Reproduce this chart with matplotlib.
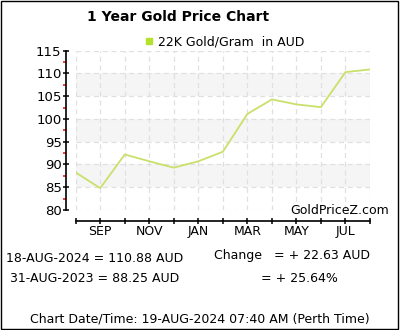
import matplotlib.pyplot as plt
from matplotlib.lines import Line2D
from matplotlib.patches import Rectangle
from matplotlib.ticker import MultipleLocator

# monthly 22K gold price per gram in AUD, 31-Aug-2023 .. 18-Aug-2024
prices = [88.25, 84.8, 92.2, 90.7, 89.3, 90.7, 92.8, 101.1, 104.3, 103.2, 102.6, 110.3, 110.88]
month_labels = ['', 'SEP', '', 'NOV', '', 'JAN', '', 'MAR', '', 'MAY', '', 'JUL', '']
bands = [(85, 90), (95, 100), (105, 110)]

line_color = '#c9e06a'
marker_color = '#b5e02c'

W, H = 400, 330
fig = plt.figure(figsize=(W / 100, H / 100), dpi=100)
ax = fig.add_axes([75.7 / W, 1 - 210 / H, (370 - 75.7) / W, (210 - 50.7) / H])

x = list(range(len(prices)))
for lo, hi in bands:
    ax.axhspan(lo, hi, color='#f5f5f5', zorder=0, lw=0)
ax.grid(True, color='#e0e0e0', linestyle=(0, (4, 3)), linewidth=0.9, zorder=1)
ax.plot(x, prices, color=line_color, linewidth=1.3, zorder=3)

ax.set_xlim(0, len(prices) - 1)
ax.set_ylim(80, 115)
ax.set_xticks(x)
ax.set_xticklabels(month_labels)
ax.yaxis.set_major_locator(MultipleLocator(5))
ax.yaxis.set_minor_locator(MultipleLocator(2.5))

for s in ('top', 'right'):
    ax.spines[s].set_visible(False)
ax.spines['left'].set_position(('outward', 7.2))
ax.spines['bottom'].set_position(('outward', 7.9))
ax.spines['left'].set_linewidth(1.2)
ax.spines['bottom'].set_linewidth(1.2)

ax.tick_params(axis='y', which='major', direction='inout', length=4, width=1.1,
               labelsize=9.5, pad=1)
ax.tick_params(axis='y', which='minor', direction='out', length=2.5, width=1.1,
               color='red')
ax.tick_params(axis='x', which='major', direction='inout', length=4, width=1.1,
               labelsize=9, pad=1)

# title, legend and watermark
fig.text(178 / W, 1 - 17 / H, '1 Year Gold Price Chart', ha='center', va='center',
         fontsize=10, fontweight='bold')
handle = Line2D([], [], marker='s', linestyle='none', color=marker_color, markersize=5)
fig.legend([handle], ['22K Gold/Gram  in AUD'], loc='center left',
           bbox_to_anchor=(136 / W, 1 - 42 / H), frameon=False, fontsize=9,
           handletextpad=0.3, borderpad=0, handlelength=1)
fig.text(389 / W, 1 - 210.5 / H, 'GoldPriceZ.com', ha='right', va='center', fontsize=9)

# summary below chart
fig.text(95 / W, 1 - 259 / H, '18-AUG-2024 = 110.88 AUD', ha='center', va='center', fontsize=9)
fig.text(95 / W, 1 - 279 / H, '31-AUG-2023 = 88.25 AUD', ha='center', va='center', fontsize=9)
fig.text(214 / W, 1 - 256 / H, 'Change   = + 22.63 AUD', ha='left', va='center', fontsize=9)
fig.text(261 / W, 1 - 279 / H, '= + 25.64%', ha='left', va='center', fontsize=9)
fig.text(200 / W, 1 - 319 / H, 'Chart Date/Time: 19-AUG-2024 07:40 AM (Perth Time)',
         ha='center', va='center', fontsize=9)

fig.add_artist(Rectangle((1 / W, 1 / H), 397 / W, 328 / H, transform=fig.transFigure,
                         fill=False, edgecolor='black', linewidth=1.0))

fig.savefig('out.png', dpi=100)
